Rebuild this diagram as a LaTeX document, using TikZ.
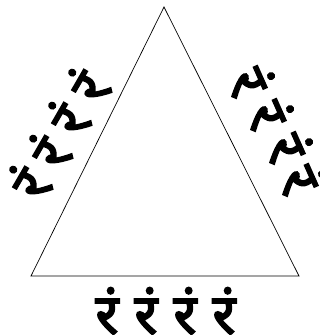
\documentclass[tikz,border=0pt]{standalone}
\usepackage{fontspec}
\newfontfamily\devfont[Script=Devanagari,FakeBold=3]{Noto Sans}
\usetikzlibrary{positioning}
\tikzset{
	side/.style={draw=black, line width=0.7pt}, % triangle edges
	mantra/.style={font=\devfont\fontsize{56}{56}\selectfont, inner sep=0pt}, % one syllable
}
\begin{document}
\begin{tikzpicture}[x=1pt,y=-1pt]
			\useasboundingbox (0,0) rectangle (320,335);
			\coordinate (apex) at (164,7);
			\coordinate (left) at (31,276);
			\coordinate (right) at (299,276);
			\draw[side] (apex) -- (right) -- (left) -- cycle;
			% along the base
			\node[mantra] (b1) at (107,311) {रं};
			\node[mantra] (b2) at (146,311) {रं};
			\node[mantra] (b3) at (185,311) {रं};
			\node[mantra] (b4) at (224,311) {रं};
			% along the left side
			\node[mantra, rotate=60] (l1) at (29,183) {रं};
			\node[mantra, rotate=60] (l2) at (49,152) {रं};
			\node[mantra, rotate=60] (l3) at (68,119) {रं};
			\node[mantra, rotate=60] (l4) at (88,86) {रं};
			% along the right side
			\node[mantra, rotate=-66] (r1) at (251,81) {रं};
			\node[mantra, rotate=-66] (r2) at (270,114) {रं};
			\node[mantra, rotate=-66] (r3) at (289,147) {रं};
			\node[mantra, rotate=-66] (r4) at (302,179) {रं};
		\end{tikzpicture}
\end{document}
